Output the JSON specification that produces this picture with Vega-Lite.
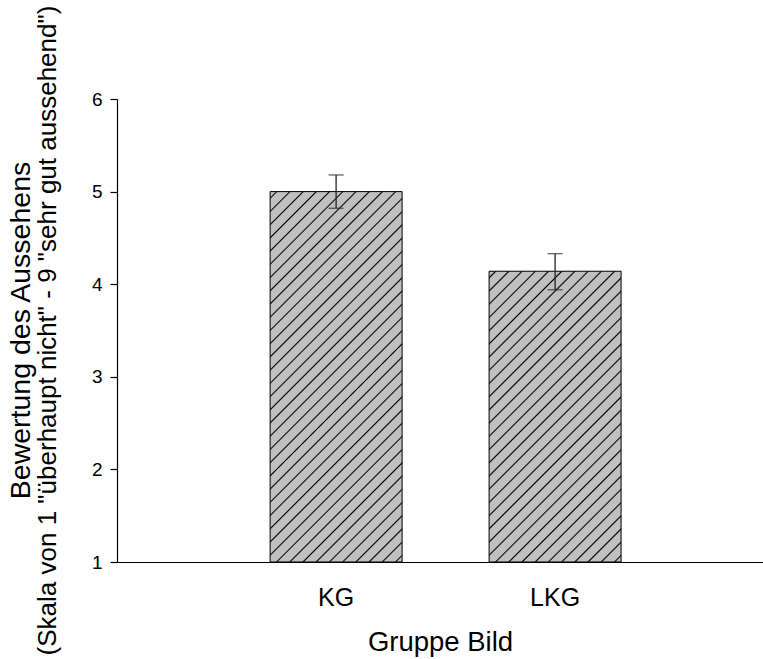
{
  "$schema": "https://vega.github.io/schema/vega-lite/v6.json",
  "width": 646,
  "height": 463,
  "autosize": {"type": "none"},
  "padding": {"left": 117, "top": 99, "right": 0, "bottom": 97},
  "background": "white",
  "config": {
    "view": {"stroke": null},
    "font": "Liberation Sans",
    "axis": {"labelFont": "Liberation Sans", "titleFont": "Liberation Sans", "labelColor": "black", "titleColor": "black", "domainColor": "black", "tickColor": "black", "grid": false, "titleFontWeight": "normal"}
  },
  "title": {
    "text": "Bewertung des Aussehens",
    "subtitle": "(Skala von 1 \"überhaupt nicht\" - 9 \"sehr gut aussehend\")",
    "orient": "left",
    "anchor": "middle",
    "frame": "group",
    "font": "Liberation Sans",
    "subtitleFont": "Liberation Sans",
    "fontSize": 28.5,
    "subtitleFontSize": 26,
    "fontWeight": "normal",
    "color": "black",
    "subtitleColor": "black",
    "offset": 30,
    "subtitlePadding": 0
  },
  "data": {"values": [
    {"grp": "KG", "mean": 5.0, "lo": 4.82, "hi": 5.18},
    {"grp": "LKG", "mean": 4.14, "lo": 3.94, "hi": 4.33}
  ]},
  "encoding": {
    "x": {"field": "grp", "type": "nominal", "sort": null,
      "scale": {"paddingInner": 0.3973, "paddingOuter": 0.6736, "align": 0.519},
      "axis": {"title": "Gruppe Bild", "labelAngle": 0, "labelFontSize": 25, "labelPadding": 43, "labelBaseline": "alphabetic", "ticks": false, "tickSize": 0, "titleFontSize": 27.5, "titleY": 88, "titleBaseline": "alphabetic", "domainWidth": 1.2}
    }
  },
  "layer": [
    {
      "mark": {"type": "bar", "stroke": "black", "strokeWidth": 1},
      "encoding": {
        "y": {"field": "mean", "type": "quantitative",
          "scale": {"domain": [1, 6], "nice": false, "zero": false},
          "axis": {"title": null, "values": [1, 2, 3, 4, 5, 6], "format": "d", "tickSize": 7, "labelFontSize": 19, "labelPadding": 8, "domainWidth": 1.2, "tickWidth": 1.2}
        },
        "y2": {"datum": 1},
        "fill": {
          "condition": {"test": "datum.grp === 'KG'", "value": {"gradient": "linear", "x1": 0, "y1": 0, "x2": 0.4289, "y2": 1.2036, "stops": [
            {"offset": 0.0102, "color": "#c0c0c0"}, {"offset": 0.0132, "color": "black"}, {"offset": 0.0162, "color": "#c0c0c0"},
            {"offset": 0.0365, "color": "#c0c0c0"}, {"offset": 0.0395, "color": "black"}, {"offset": 0.0425, "color": "#c0c0c0"},
            {"offset": 0.0628, "color": "#c0c0c0"}, {"offset": 0.0658, "color": "black"}, {"offset": 0.0688, "color": "#c0c0c0"},
            {"offset": 0.0891, "color": "#c0c0c0"}, {"offset": 0.0921, "color": "black"}, {"offset": 0.0951, "color": "#c0c0c0"},
            {"offset": 0.1154, "color": "#c0c0c0"}, {"offset": 0.1184, "color": "black"}, {"offset": 0.1214, "color": "#c0c0c0"},
            {"offset": 0.1417, "color": "#c0c0c0"}, {"offset": 0.1447, "color": "black"}, {"offset": 0.1477, "color": "#c0c0c0"},
            {"offset": 0.1681, "color": "#c0c0c0"}, {"offset": 0.1711, "color": "black"}, {"offset": 0.1741, "color": "#c0c0c0"},
            {"offset": 0.1944, "color": "#c0c0c0"}, {"offset": 0.1974, "color": "black"}, {"offset": 0.2004, "color": "#c0c0c0"},
            {"offset": 0.2207, "color": "#c0c0c0"}, {"offset": 0.2237, "color": "black"}, {"offset": 0.2267, "color": "#c0c0c0"},
            {"offset": 0.2470, "color": "#c0c0c0"}, {"offset": 0.2500, "color": "black"}, {"offset": 0.2530, "color": "#c0c0c0"},
            {"offset": 0.2733, "color": "#c0c0c0"}, {"offset": 0.2763, "color": "black"}, {"offset": 0.2793, "color": "#c0c0c0"},
            {"offset": 0.2996, "color": "#c0c0c0"}, {"offset": 0.3026, "color": "black"}, {"offset": 0.3056, "color": "#c0c0c0"},
            {"offset": 0.3259, "color": "#c0c0c0"}, {"offset": 0.3289, "color": "black"}, {"offset": 0.3319, "color": "#c0c0c0"},
            {"offset": 0.3523, "color": "#c0c0c0"}, {"offset": 0.3553, "color": "black"}, {"offset": 0.3583, "color": "#c0c0c0"},
            {"offset": 0.3786, "color": "#c0c0c0"}, {"offset": 0.3816, "color": "black"}, {"offset": 0.3846, "color": "#c0c0c0"},
            {"offset": 0.4049, "color": "#c0c0c0"}, {"offset": 0.4079, "color": "black"}, {"offset": 0.4109, "color": "#c0c0c0"},
            {"offset": 0.4312, "color": "#c0c0c0"}, {"offset": 0.4342, "color": "black"}, {"offset": 0.4372, "color": "#c0c0c0"},
            {"offset": 0.4575, "color": "#c0c0c0"}, {"offset": 0.4605, "color": "black"}, {"offset": 0.4635, "color": "#c0c0c0"},
            {"offset": 0.4838, "color": "#c0c0c0"}, {"offset": 0.4868, "color": "black"}, {"offset": 0.4898, "color": "#c0c0c0"},
            {"offset": 0.5102, "color": "#c0c0c0"}, {"offset": 0.5132, "color": "black"}, {"offset": 0.5162, "color": "#c0c0c0"},
            {"offset": 0.5365, "color": "#c0c0c0"}, {"offset": 0.5395, "color": "black"}, {"offset": 0.5425, "color": "#c0c0c0"},
            {"offset": 0.5628, "color": "#c0c0c0"}, {"offset": 0.5658, "color": "black"}, {"offset": 0.5688, "color": "#c0c0c0"},
            {"offset": 0.5891, "color": "#c0c0c0"}, {"offset": 0.5921, "color": "black"}, {"offset": 0.5951, "color": "#c0c0c0"},
            {"offset": 0.6154, "color": "#c0c0c0"}, {"offset": 0.6184, "color": "black"}, {"offset": 0.6214, "color": "#c0c0c0"},
            {"offset": 0.6417, "color": "#c0c0c0"}, {"offset": 0.6447, "color": "black"}, {"offset": 0.6477, "color": "#c0c0c0"},
            {"offset": 0.6681, "color": "#c0c0c0"}, {"offset": 0.6711, "color": "black"}, {"offset": 0.6741, "color": "#c0c0c0"},
            {"offset": 0.6944, "color": "#c0c0c0"}, {"offset": 0.6974, "color": "black"}, {"offset": 0.7004, "color": "#c0c0c0"},
            {"offset": 0.7207, "color": "#c0c0c0"}, {"offset": 0.7237, "color": "black"}, {"offset": 0.7267, "color": "#c0c0c0"},
            {"offset": 0.7470, "color": "#c0c0c0"}, {"offset": 0.7500, "color": "black"}, {"offset": 0.7530, "color": "#c0c0c0"},
            {"offset": 0.7733, "color": "#c0c0c0"}, {"offset": 0.7763, "color": "black"}, {"offset": 0.7793, "color": "#c0c0c0"},
            {"offset": 0.7996, "color": "#c0c0c0"}, {"offset": 0.8026, "color": "black"}, {"offset": 0.8056, "color": "#c0c0c0"},
            {"offset": 0.8259, "color": "#c0c0c0"}, {"offset": 0.8289, "color": "black"}, {"offset": 0.8319, "color": "#c0c0c0"},
            {"offset": 0.8523, "color": "#c0c0c0"}, {"offset": 0.8553, "color": "black"}, {"offset": 0.8583, "color": "#c0c0c0"},
            {"offset": 0.8786, "color": "#c0c0c0"}, {"offset": 0.8816, "color": "black"}, {"offset": 0.8846, "color": "#c0c0c0"},
            {"offset": 0.9049, "color": "#c0c0c0"}, {"offset": 0.9079, "color": "black"}, {"offset": 0.9109, "color": "#c0c0c0"},
            {"offset": 0.9312, "color": "#c0c0c0"}, {"offset": 0.9342, "color": "black"}, {"offset": 0.9372, "color": "#c0c0c0"},
            {"offset": 0.9575, "color": "#c0c0c0"}, {"offset": 0.9605, "color": "black"}, {"offset": 0.9635, "color": "#c0c0c0"},
            {"offset": 0.9838, "color": "#c0c0c0"}, {"offset": 0.9868, "color": "black"}, {"offset": 0.9898, "color": "#c0c0c0"}
          ]}},
          "value": {"gradient": "linear", "x1": 0, "y1": 0, "x2": 0.5472, "y2": 1.2055, "stops": [
            {"offset": 0.0119, "color": "#c0c0c0"}, {"offset": 0.0156, "color": "black"}, {"offset": 0.0193, "color": "#c0c0c0"},
            {"offset": 0.0432, "color": "#c0c0c0"}, {"offset": 0.0469, "color": "black"}, {"offset": 0.0506, "color": "#c0c0c0"},
            {"offset": 0.0744, "color": "#c0c0c0"}, {"offset": 0.0781, "color": "black"}, {"offset": 0.0818, "color": "#c0c0c0"},
            {"offset": 0.1057, "color": "#c0c0c0"}, {"offset": 0.1094, "color": "black"}, {"offset": 0.1131, "color": "#c0c0c0"},
            {"offset": 0.1369, "color": "#c0c0c0"}, {"offset": 0.1406, "color": "black"}, {"offset": 0.1443, "color": "#c0c0c0"},
            {"offset": 0.1682, "color": "#c0c0c0"}, {"offset": 0.1719, "color": "black"}, {"offset": 0.1756, "color": "#c0c0c0"},
            {"offset": 0.1994, "color": "#c0c0c0"}, {"offset": 0.2031, "color": "black"}, {"offset": 0.2068, "color": "#c0c0c0"},
            {"offset": 0.2307, "color": "#c0c0c0"}, {"offset": 0.2344, "color": "black"}, {"offset": 0.2381, "color": "#c0c0c0"},
            {"offset": 0.2619, "color": "#c0c0c0"}, {"offset": 0.2656, "color": "black"}, {"offset": 0.2693, "color": "#c0c0c0"},
            {"offset": 0.2932, "color": "#c0c0c0"}, {"offset": 0.2969, "color": "black"}, {"offset": 0.3006, "color": "#c0c0c0"},
            {"offset": 0.3244, "color": "#c0c0c0"}, {"offset": 0.3281, "color": "black"}, {"offset": 0.3318, "color": "#c0c0c0"},
            {"offset": 0.3557, "color": "#c0c0c0"}, {"offset": 0.3594, "color": "black"}, {"offset": 0.3631, "color": "#c0c0c0"},
            {"offset": 0.3869, "color": "#c0c0c0"}, {"offset": 0.3906, "color": "black"}, {"offset": 0.3943, "color": "#c0c0c0"},
            {"offset": 0.4182, "color": "#c0c0c0"}, {"offset": 0.4219, "color": "black"}, {"offset": 0.4256, "color": "#c0c0c0"},
            {"offset": 0.4494, "color": "#c0c0c0"}, {"offset": 0.4531, "color": "black"}, {"offset": 0.4568, "color": "#c0c0c0"},
            {"offset": 0.4807, "color": "#c0c0c0"}, {"offset": 0.4844, "color": "black"}, {"offset": 0.4881, "color": "#c0c0c0"},
            {"offset": 0.5119, "color": "#c0c0c0"}, {"offset": 0.5156, "color": "black"}, {"offset": 0.5193, "color": "#c0c0c0"},
            {"offset": 0.5432, "color": "#c0c0c0"}, {"offset": 0.5469, "color": "black"}, {"offset": 0.5506, "color": "#c0c0c0"},
            {"offset": 0.5744, "color": "#c0c0c0"}, {"offset": 0.5781, "color": "black"}, {"offset": 0.5818, "color": "#c0c0c0"},
            {"offset": 0.6057, "color": "#c0c0c0"}, {"offset": 0.6094, "color": "black"}, {"offset": 0.6131, "color": "#c0c0c0"},
            {"offset": 0.6369, "color": "#c0c0c0"}, {"offset": 0.6406, "color": "black"}, {"offset": 0.6443, "color": "#c0c0c0"},
            {"offset": 0.6682, "color": "#c0c0c0"}, {"offset": 0.6719, "color": "black"}, {"offset": 0.6756, "color": "#c0c0c0"},
            {"offset": 0.6994, "color": "#c0c0c0"}, {"offset": 0.7031, "color": "black"}, {"offset": 0.7068, "color": "#c0c0c0"},
            {"offset": 0.7307, "color": "#c0c0c0"}, {"offset": 0.7344, "color": "black"}, {"offset": 0.7381, "color": "#c0c0c0"},
            {"offset": 0.7619, "color": "#c0c0c0"}, {"offset": 0.7656, "color": "black"}, {"offset": 0.7693, "color": "#c0c0c0"},
            {"offset": 0.7932, "color": "#c0c0c0"}, {"offset": 0.7969, "color": "black"}, {"offset": 0.8006, "color": "#c0c0c0"},
            {"offset": 0.8244, "color": "#c0c0c0"}, {"offset": 0.8281, "color": "black"}, {"offset": 0.8318, "color": "#c0c0c0"},
            {"offset": 0.8557, "color": "#c0c0c0"}, {"offset": 0.8594, "color": "black"}, {"offset": 0.8631, "color": "#c0c0c0"},
            {"offset": 0.8869, "color": "#c0c0c0"}, {"offset": 0.8906, "color": "black"}, {"offset": 0.8943, "color": "#c0c0c0"},
            {"offset": 0.9182, "color": "#c0c0c0"}, {"offset": 0.9219, "color": "black"}, {"offset": 0.9256, "color": "#c0c0c0"},
            {"offset": 0.9494, "color": "#c0c0c0"}, {"offset": 0.9531, "color": "black"}, {"offset": 0.9568, "color": "#c0c0c0"},
            {"offset": 0.9807, "color": "#c0c0c0"}, {"offset": 0.9844, "color": "black"}, {"offset": 0.9881, "color": "#c0c0c0"}
          ]}
        }
      }
    },
    {
      "mark": {"type": "rule", "color": "#222222", "strokeWidth": 1.3},
      "encoding": {"y": {"field": "lo", "type": "quantitative"}, "y2": {"field": "hi"}}
    },
    {
      "mark": {"type": "tick", "color": "#222222", "thickness": 1.3, "size": 15},
      "encoding": {"y": {"field": "hi", "type": "quantitative"}}
    },
    {
      "mark": {"type": "tick", "color": "#222222", "thickness": 1.3, "size": 15},
      "encoding": {"y": {"field": "lo", "type": "quantitative"}}
    }
  ]
}
